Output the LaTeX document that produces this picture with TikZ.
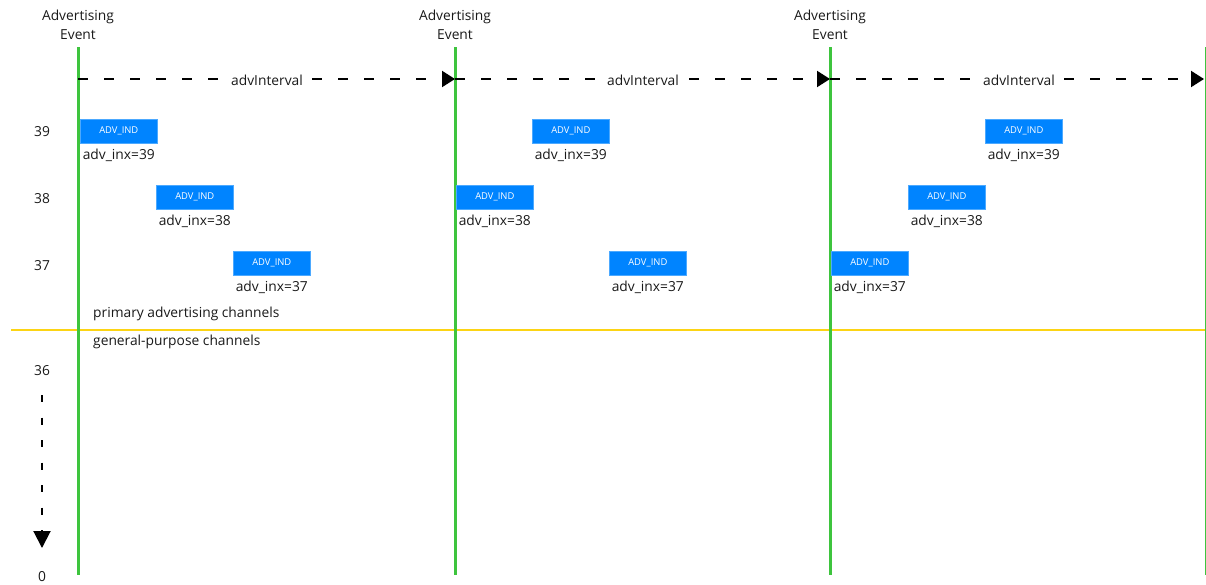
\documentclass[tikz,border=0pt]{standalone}
\usepackage{fontspec}
\setmainfont{Open Sans}
\usetikzlibrary{arrows.meta}
\definecolor{evgreen}{RGB}{62,196,62}
\definecolor{chyellow}{RGB}{252,212,20}
\definecolor{pdublue}{RGB}{0,132,255}
\definecolor{ink}{RGB}{25,25,25}
\tikzset{
  evline/.style={evgreen, line width=3pt},
  interval/.style={black, line width=2pt, dash pattern=on 10pt off 16pt,
    -{Triangle[length=13pt,width=16pt]}},
  ivlabel/.style={fill=white, inner sep=3pt, text=ink, font=\fontsize{13.8}{15}\selectfont},
  pdu/.style={fill=pdublue, draw=pdublue!70!white, line width=0.6pt,
    minimum width=77pt, minimum height=24pt, inner sep=0pt, anchor=north west,
    text=white, font=\fontsize{9.4}{10}\selectfont},
  idx/.style={font=\fontsize{13.8}{15}\selectfont, text=ink, inner sep=0pt},
  chan/.style={font=\fontsize{13.8}{15}\selectfont, text=ink, inner sep=0pt},
  evtitle/.style={align=center, text=ink, font=\fontsize{13.8}{19}\selectfont, inner sep=0pt},
}
\begin{document}
\begin{tikzpicture}[x=1pt, y=-1pt]
\useasboundingbox (0,0) rectangle (1206,584);

% advertising event markers
\foreach \n/\x in {a/78, b/455, c/830} {
  \coordinate (\n-top) at (\x,47);
  \coordinate (\n-bot) at (\x,575);
  \coordinate (\n-iv) at (\x,79);
}
\coordinate (d-top) at (1206,47);
\coordinate (d-bot) at (1206,575);
\coordinate (d-iv) at (1204,79);

\node[evtitle] (ta) at (78,25) {Advertising\\Event};
\node[evtitle] (tb) at (455,25) {Advertising\\Event};
\node[evtitle] (tc) at (830,25) {Advertising\\Event};

% channel group separator
\coordinate (sepL) at (11,330);
\coordinate (sepR) at (1206,330);
\draw[chyellow, line width=2pt] (sepL) -- (sepR);

\draw[evline] (a-top) -- (a-bot);
\draw[evline] (b-top) -- (b-bot);
\draw[evline] (c-top) -- (c-bot);
\draw[evline] (d-top) -- (d-bot);

% advInterval arrows
\draw[interval] (a-iv) -- (b-iv);
\draw[interval] (b-iv) -- (c-iv);
\draw[interval] (c-iv) -- (d-iv);
\node[ivlabel] (iva) at (267,80) {advInterval};
\node[ivlabel] (ivb) at (643,80) {advInterval};
\node[ivlabel] (ivc) at (1019,80) {advInterval};

% channel numbers
\node[idx] (c39) at (42,132) {39};
\node[idx] (c38) at (42,199) {38};
\node[idx] (c37) at (42,266) {37};
\node[idx] (c36) at (42,371) {36};
\node[idx] (c0) at (42,577) {0};
\coordinate (vs) at (42,395);
\coordinate (ve) at (42,548);
\draw[black, line width=2pt, dash pattern=on 7pt off 15.5pt,
  -{Triangle[length=17pt,width=17pt]}] (vs) -- (ve);

\node[chan, anchor=west] (prim) at (93,314) {primary advertising channels};
\node[chan, anchor=west] (gen) at (93,342) {general-purpose channels};

% advertising PDUs
\foreach \n/\x/\y/\c in {
  p1/80/119/39, p2/156/185/38, p3/233/251/37,
  p4/532/119/39, p5/456/185/38, p6/609/251/37,
  p7/985/119/39, p8/908/185/38, p9/831/251/37} {
  \node[pdu] (\n) at (\x,\y) {ADV\_IND};
  \node[idx, anchor=north] (\n-l) at ([yshift=-5pt]\n.south) {adv\_inx=\c};
}
\end{tikzpicture}
\end{document}
